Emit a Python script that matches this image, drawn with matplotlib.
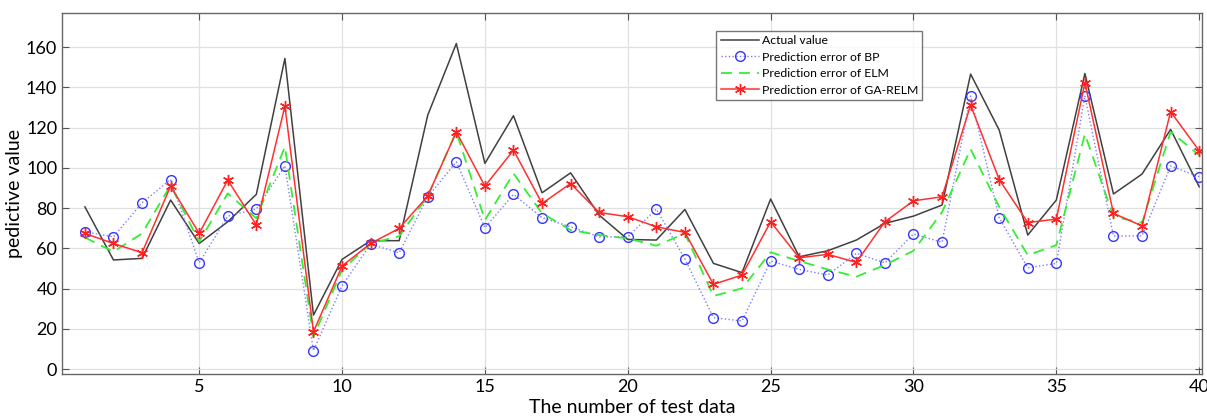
import matplotlib
matplotlib.use("Agg")
import matplotlib.pyplot as plt
import numpy as np

plt.rcParams['font.family'] = ['Lato', 'DejaVu Sans']

x = list(range(1, 41))
actual = [80.6, 54.2, 55.0, 84.0, 62.4, 73.2, 86.8, 154.4, 26.8, 54.5,
          63.8, 63.8, 126.2, 161.8, 102.2, 125.9, 87.6, 97.5, 76.5, 64.4,
          64.1, 79.3, 52.5, 47.9, 84.5, 55.8, 58.8, 64.1, 72.4, 76.0,
          81.5, 146.6, 118.8, 66.6, 84.0, 146.9, 87.0, 96.9, 119.1, 90.6]
bp = [68.2, 65.7, 82.6, 94.2, 52.8, 76.0, 79.5, 101.0, 9.1, 41.4,
      62.0, 57.8, 85.6, 103.0, 70.2, 86.8, 75.2, 70.7, 65.7, 65.7,
      79.5, 54.7, 25.5, 23.9, 53.7, 49.5, 46.7, 57.5, 52.8, 67.1,
      63.0, 135.7, 75.2, 50.3, 52.5, 135.8, 66.1, 66.2, 100.9, 95.6]
elm = [65.4, 58.3, 67.4, 91.4, 63.3, 87.3, 74.9, 110.5, 16.1, 49.2,
       62.4, 66.0, 86.0, 117.9, 74.0, 97.2, 77.4, 69.1, 66.6, 64.9,
       61.3, 67.4, 36.3, 40.1, 58.0, 53.7, 49.5, 45.9, 51.7, 58.8,
       78.0, 109.3, 80.6, 56.6, 61.6, 116.8, 75.7, 72.7, 117.9, 106.3]
garelm = [67.4, 62.4, 57.8, 90.9, 67.4, 93.9, 71.6, 130.7, 18.5, 51.2,
          62.4, 69.9, 86.0, 117.9, 90.9, 108.8, 82.3, 92.2, 77.8, 75.7,
          70.7, 67.9, 42.1, 46.7, 73.2, 55.3, 57.0, 53.0, 73.2, 83.6,
          85.6, 131.2, 94.2, 72.8, 74.5, 142.3, 77.4, 71.1, 127.9, 108.5]

labels = ["Actual value", "Prediction error of BP",
          "Prediction error of ELM", "Prediction error of GA-RELM"]

fig = plt.figure(figsize=(12.07, 4.17), dpi=100)
ax = fig.add_axes([0.0514, 0.103, 0.9445, 0.866])

ax.plot(x, actual, color='#404040', lw=1.1, label=labels[0])
ax.plot(x, bp, color='#7b7bff', lw=1.0, ls=':', marker='o', markersize=7,
        markerfacecolor='none', markeredgecolor='#3535ff', markeredgewidth=1.0,
        label=labels[1])
ax.plot(x, elm, color='#33ee33', lw=1.3, ls=(0, (6, 4)), label=labels[2])
ax.plot(x, garelm, color='#ff3030', lw=1.1, marker=(6, 2, 0), markersize=8,
        markeredgecolor='#ff2020', markeredgewidth=1.0, label=labels[3])

ax.set_xlim(0.2, 40.1)
ax.set_ylim(-2.5, 177)
ax.set_xticks([5, 10, 15, 20, 25, 30, 35, 40])
ax.set_yticks(np.arange(0, 161, 20))
ax.tick_params(direction='in', top=True, right=True, labelsize=13,
               color='#555555', length=5)
ax.grid(True, color='#e0e0e0', lw=0.9)
for s in ax.spines.values():
    s.set_color('#666666')
    s.set_linewidth(1.0)

ax.set_xlabel("The number of test data", fontsize=14, labelpad=3)
ax.set_ylabel("pedictive value", fontsize=14, labelpad=2)

leg = ax.legend(loc='upper left', bbox_to_anchor=(0.574, 0.95), fontsize=8.8,
                frameon=True, fancybox=False, edgecolor='#555555',
                borderpad=0.35, labelspacing=0.45, handlelength=3.1,
                handletextpad=0.25, borderaxespad=0)
leg.get_frame().set_linewidth(1.0)

fig.savefig("out.png", dpi=100)
